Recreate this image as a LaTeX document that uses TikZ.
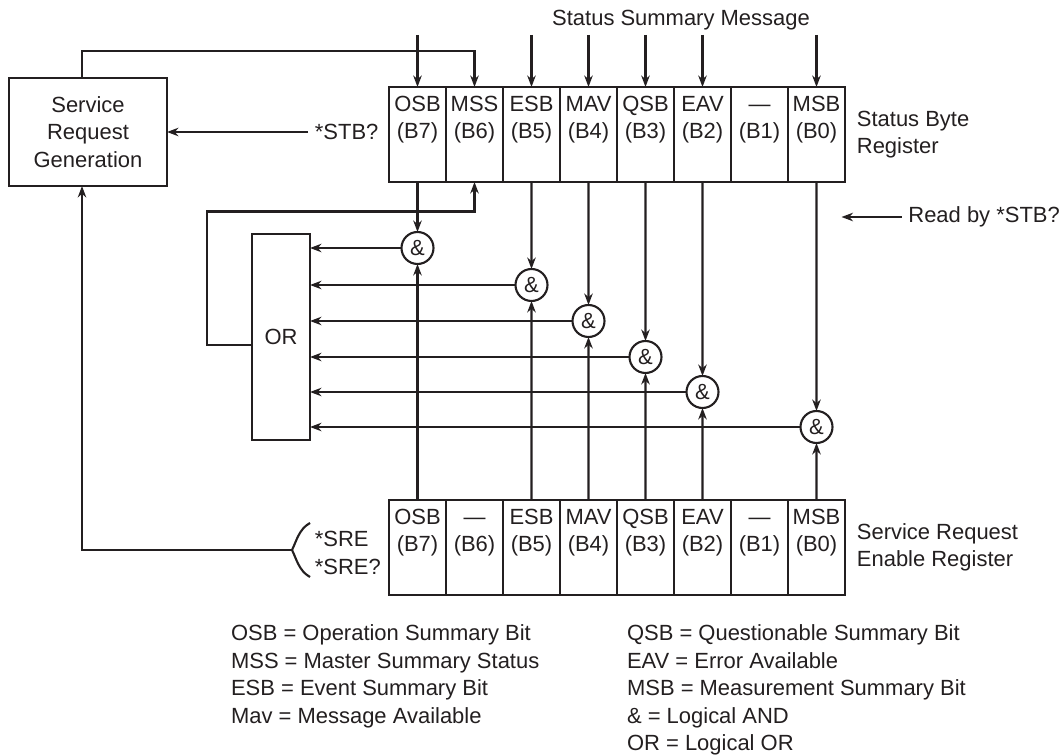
\documentclass[tikz,border=0pt]{standalone}
\usepackage{fontspec}
\setmainfont{Liberation Sans}
\usetikzlibrary{arrows.meta,positioning}
\definecolor{Ink}{HTML}{231F20}

\begin{document}
\begin{tikzpicture}[node distance=0pt,color=Ink,line width=1.2pt,
    font=\fontsize{12.5}{15.6}\selectfont,
    cell/.style={draw,minimum width=1.14cm,minimum height=1.9cm,outer sep=0pt,
                 inner sep=0pt,text height=.75em,align=center},
    gate/.style={circle,draw,minimum size=.64cm,inner sep=0pt,outer sep=0pt},
    arr/.style={-{Stealth[length=2.3mm,width=1.7mm]}}]
    \useasboundingbox (0,0) rectangle (21.22,15.1);
    \node[draw,outer sep=0pt,minimum width=3.16cm,minimum height=2.16cm,align=center]
        (srg) at (1.76,12.46) {Service\\Request\\Generation};
    \node (msg) at (13.62,14.70) {Status Summary Message};
    \coordinate (in) at (0,14.4);
    \node[cell] (sb7) at (8.35,12.41) {OSB\\(B7)};
    \node[cell,right=of sb7] (sb6) {MSS\\(B6)};
    \node[cell,right=of sb6] (sb5) {ESB\\(B5)};
    \node[cell,right=of sb5] (sb4) {MAV\\(B4)};
    \node[cell,right=of sb4] (sb3) {QSB\\(B3)};
    \node[cell,right=of sb3] (sb2) {EAV\\(B2)};
    \node[cell,right=of sb2] (sb1) {—\\(B1)};
    \node[cell,right=of sb1] (sb0) {MSB\\(B0)};
    \node[right=.1cm of sb0,align=left] (sbreg) {Status Byte\\Register};
    \node[cell] (se7) at (8.35,4.15) {OSB\\(B7)};
    \node[cell,right=of se7] (se6) {—\\(B6)};
    \node[cell,right=of se6] (se5) {ESB\\(B5)};
    \node[cell,right=of se5] (se4) {MAV\\(B4)};
    \node[cell,right=of se4] (se3) {QSB\\(B3)};
    \node[cell,right=of se3] (se2) {EAV\\(B2)};
    \node[cell,right=of se2] (se1) {—\\(B1)};
    \node[cell,right=of se1] (se0) {MSB\\(B0)};
    \node[right=.1cm of se0,align=left] (sereg) {Service Request\\Enable Register};
    \node[draw,outer sep=0pt,minimum width=1.16cm,minimum height=4.12cm] (orgate) at (5.62,8.36) {OR};
    \node[gate] (g7) at (8.35,10.14) {\&};
    \node[gate] (g5) at (10.63,9.40) {\&};
    \node[gate] (g4) at (11.77,8.68) {\&};
    \node[gate] (g3) at (12.91,7.96) {\&};
    \node[gate] (g2) at (14.05,7.26) {\&};
    \node[gate] (g0) at (16.33,6.56) {\&};
    \node[anchor=west] (stb) at (6.16,12.46) {*STB?};
    \node[anchor=west] (rd) at (18.03,10.76) {Read by *STB?};
    \coordinate (rdtip) at (16.83,10.76);
    \node[anchor=west,align=left] (sreq) at (6.16,4.04) {*SRE\\*SRE?};
    \coordinate (tip) at (5.84,4.10);
    \draw[arr] (sb7 |- in)--(sb7);
    \draw[arr] (sb5 |- in)--(sb5);
    \draw[arr] (sb4 |- in)--(sb4);
    \draw[arr] (sb3 |- in)--(sb3);
    \draw[arr] (sb2 |- in)--(sb2);
    \draw[arr] (sb0 |- in)--(sb0);
    \draw[arr] ([xshift=-1.2mm]srg.north)--++(0,.54) -| (sb6);
    \draw[arr] (stb)--(srg);
    \draw[arr] (rd)--(rdtip);
    \draw[arr] (sb7)--(g7);
    \draw[arr] (sb5)--(g5);
    \draw[arr] (sb4)--(g4);
    \draw[arr] (sb3)--(g3);
    \draw[arr] (sb2)--(g2);
    \draw[arr] (sb0)--(g0);
    \draw[arr] (se7)--(g7);
    \draw[arr] (se5)--(g5);
    \draw[arr] (se4)--(g4);
    \draw[arr] (se3)--(g3);
    \draw[arr] (se2)--(g2);
    \draw[arr] (se0)--(g0);
    \draw[arr] (g7)--(g7 -| orgate.east);
    \draw[arr] (g5)--(g5 -| orgate.east);
    \draw[arr] (g4)--(g4 -| orgate.east);
    \draw[arr] (g3)--(g3 -| orgate.east);
    \draw[arr] (g2)--(g2 -| orgate.east);
    \draw[arr] (g0)--(g0 -| orgate.east);
    \draw[arr] ([yshift=-1.6mm]orgate.west)--++(-.9,0) |- ([yshift=-5.9mm]sb6.south)--(sb6.south);
    \draw (6.20,4.64) .. controls (5.98,4.52) and (5.93,4.28) .. (tip)
        .. controls (5.93,3.92) and (5.98,3.68) .. (6.20,3.56);
    \draw[arr] (tip) -| ([xshift=-1.2mm]srg.south);
    \node[anchor=north west,align=left,inner sep=0pt] (keyl) at (4.6,2.62)
        {OSB = Operation Summary Bit\\MSS = Master Summary Status\\ESB = Event Summary Bit\\Mav = Message Available};
    \node[anchor=north west,align=left,inner sep=0pt] (keyr) at (12.52,2.62)
        {QSB = Questionable Summary Bit\\EAV = Error Available\\MSB = Measurement Summary Bit\\\& = Logical AND\\OR = Logical OR};
  \end{tikzpicture}
\end{document}
